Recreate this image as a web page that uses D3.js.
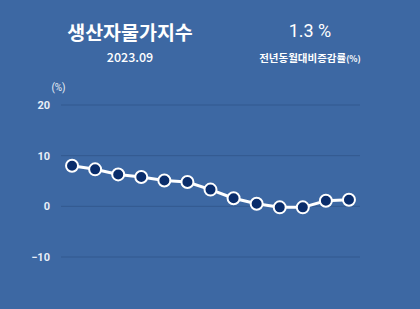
<!DOCTYPE html>
<html>
<head>
<meta charset="utf-8">
<script src="https://cdn.jsdelivr.net/npm/d3@7"></script>
<style>
  html, body { margin: 0; padding: 0; background: #3d68a3; }
  svg { display: block; font-family: "Noto Sans CJK KR", "Noto Sans", sans-serif; }
</style>
</head>
<body>
<div id="chart"></div>
<script>
// 2022.09 ~ 2023.09 전년동월대비
const months = ['2022.09', '2022.10', '2022.11', '2022.12', '2023.01', '2023.02', '2023.03',
  '2023.04', '2023.05', '2023.06', '2023.07', '2023.08', '2023.09'];
const values = [8.0, 7.3, 6.3, 5.8, 5.1, 4.8, 3.3, 1.6, 0.5, -0.2, -0.2, 1.1, 1.3];
const yTicks = [-10, 0, 10, 20];

const width = 420, height = 309;
const svg = d3.select('#chart').append('svg').attr('width', width).attr('height', height);

svg.append('rect').attr('width', width).attr('height', height).attr('fill', '#3d68a3');

// header
svg.append('text').attr('x', 130).attr('y', 40).attr('text-anchor', 'middle')
  .attr('fill', '#fff').attr('font-size', 19.5).attr('font-weight', 700)
  .text('생산자물가지수');
svg.append('text').attr('x', 130).attr('y', 62).attr('text-anchor', 'middle')
  .attr('fill', '#fff').attr('font-size', 12.5).attr('font-weight', 500)
  .text(months[months.length - 1]);
svg.append('text').attr('x', 310).attr('y', 37).attr('text-anchor', 'middle')
  .attr('fill', '#fff').attr('font-size', 18)
  .style('font-family', 'Roboto, sans-serif')
  .text(values[values.length - 1] + ' %');
const sub = svg.append('text').attr('x', 310).attr('y', 62).attr('text-anchor', 'middle')
  .attr('fill', '#fff').attr('font-size', 10.5).attr('font-weight', 700);
sub.append('tspan').text('전년동월대비증감률');
sub.append('tspan').attr('font-size', 8.5).text('(%)');

const x = d3.scalePoint().domain(months).range([60.5, 360.5]).padding(0.5);
const y = d3.scaleLinear().domain([-10, 20]).range([257, 105]);

// grid
svg.append('g').selectAll('line').data(yTicks).join('line')
  .attr('x1', 61).attr('x2', 360)
  .attr('y1', d => y(d)).attr('y2', d => y(d))
  .attr('stroke', '#33598f').attr('stroke-width', 1);

const yAxis = svg.append('g').attr('transform', 'translate(50,0)')
  .call(d3.axisLeft(y).tickValues(yTicks).tickSize(0).tickPadding(0));
yAxis.select('.domain').remove();
yAxis.selectAll('text').attr('fill', '#e8eef7').attr('font-size', 11).attr('font-weight', 700)
  .style('font-family', 'Roboto, sans-serif');

svg.append('text').attr('x', 58.5).attr('y', 91).attr('text-anchor', 'middle')
  .attr('fill', '#e8eef7').attr('font-size', 10)
  .style('font-family', 'Roboto, sans-serif')
  .text('(%)');

// line + markers
const line = d3.line().x((d, i) => x(months[i])).y(d => y(d));
svg.append('path').datum(values).attr('d', line)
  .attr('fill', 'none').attr('stroke', '#fff').attr('stroke-width', 3);

svg.append('g').selectAll('circle').data(values).join('circle')
  .attr('cx', (d, i) => x(months[i])).attr('cy', d => y(d))
  .attr('r', 6).attr('fill', '#0a2d6b')
  .attr('stroke', '#fff').attr('stroke-width', 2);
</script>
</body>
</html>
